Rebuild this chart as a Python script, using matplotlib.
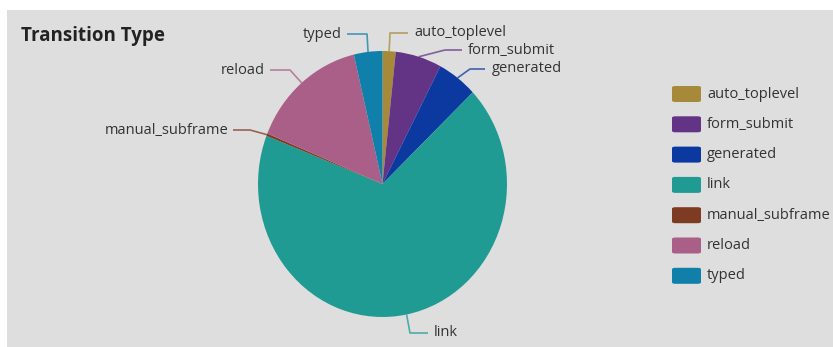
import matplotlib
matplotlib.use("Agg")
import matplotlib.pyplot as plt
from matplotlib.patches import Rectangle, FancyBboxPatch
import numpy as np

categories = ["auto_toplevel", "form_submit", "generated", "link",
              "manual_subframe", "reload", "typed"]
values = [1.7, 6.0, 5.2, 68.0, 0.3, 15.1, 3.7]
colors = ["#A68A3A", "#633385", "#0B39A0", "#1F9B94",
          "#7D3C22", "#AA5F88", "#1080AA"]
title = "Transition Type"

W, H = 833, 347
plt.rcParams['font.family'] = ['Open Sans', 'DejaVu Sans']
fig = plt.figure(figsize=(W / 100, H / 100), dpi=100)
fig.patch.set_facecolor("white")

def fx(px):
    return px / W

def fy(py):
    return (H - py) / H

# gray panel
fig.patches.append(Rectangle((fx(7), fy(347)), fx(833) - fx(7), fy(10) - fy(347),
                             transform=fig.transFigure, facecolor="#DEDEDE",
                             edgecolor="none", zorder=-5))

# pie axes (pixel box)
L, R, T, B = 258, 507, 51, 317
ax = fig.add_axes([fx(L), fy(B), (R - L) / W, (B - T) / H])
ax.set_zorder(2)
ax.axis("off")
ax.patch.set_alpha(0)
wedges, _ = ax.pie(values, colors=colors, startangle=90, counterclock=False,
                   radius=1, wedgeprops=dict(linewidth=0))
ax.set_aspect("auto")
ax.set_xlim(-1, 1)
ax.set_ylim(-1, 1)

cx, cy = (L + R) / 2, (T + B) / 2
rx, ry = (R - L) / 2, (B - T) / 2

def to_data(px, py):
    return (px - cx) / rx, (cy - py) / ry

# label layout: elbow point, line end (pixels), text side, text x
layout = {
    "auto_toplevel":   ((390, 33), (408, 33), "left", 414),
    "form_submit":     ((445, 50), (462, 50), "left", 468),
    "generated":       ((470, 69), (485, 69), "left", 492),
    "link":            ((410, 333), (428, 333), "left", 434),
    "manual_subframe": ((250, 130), (233, 130), "right", 228),
    "reload":          ((290, 70), (270, 70), "right", 265),
    "typed":           ((367, 34), (347, 34), "right", 342),
}

total = sum(values)
cum = 0.0
for cat, v, c in zip(categories, values, colors):
    mid = (cum + v / 2) / total * 2 * np.pi
    cum += v
    ax_, ay_ = np.sin(mid), np.cos(mid)
    (ex, ey), (lx, ly), side, tx = layout[cat]
    e = to_data(ex, ey)
    l = to_data(lx, ly)
    ax.plot([ax_, e[0], l[0]], [ay_, e[1], l[1]], color=c, lw=1.2, alpha=0.75,
            clip_on=False, solid_capstyle="butt")
    t = to_data(tx, ly)
    ax.text(t[0], t[1], cat, ha=side, va="center", fontsize=10.5,
            color="#333333", clip_on=False)

fig.text(fx(21), fy(36), title, fontsize=13.5, fontweight="bold",
         color="#222222", ha="left", va="center")

# legend
row0, step = 94, 30.3
for i, (cat, c) in enumerate(zip(categories, colors)):
    yc = row0 + i * step
    fig.patches.append(FancyBboxPatch((fx(672), fy(yc + 8)), fx(701) - fx(672),
                                      fy(yc - 8) - fy(yc + 8),
                                      boxstyle="round,pad=0,rounding_size=0.004",
                                      transform=fig.transFigure, facecolor=c,
                                      edgecolor="none", zorder=2))
    fig.text(fx(707), fy(yc), cat, fontsize=10.5, color="#333333",
             ha="left", va="center")

fig.savefig("out.png", dpi=100, facecolor=fig.get_facecolor())
